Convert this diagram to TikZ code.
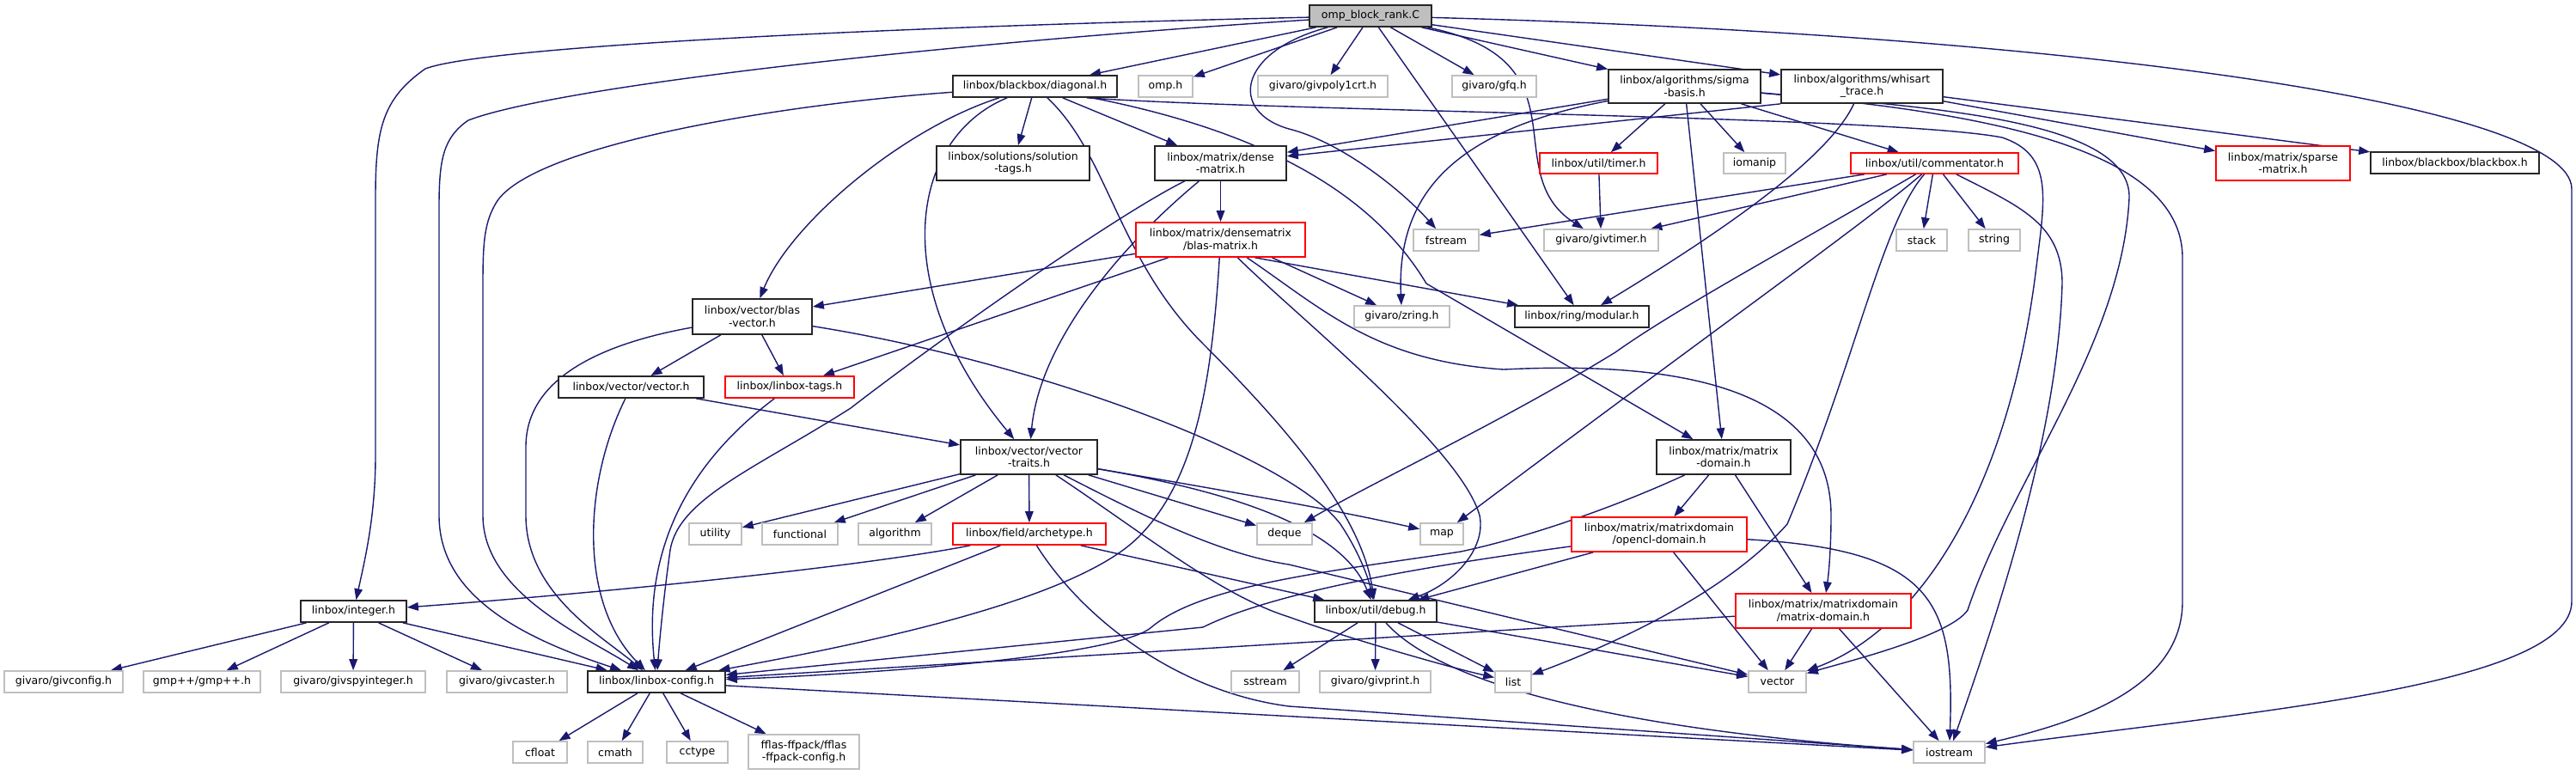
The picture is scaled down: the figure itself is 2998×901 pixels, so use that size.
\documentclass[tikz,border=0pt]{standalone}
\usepackage{fontspec}
\setmainfont{DejaVu Sans}
\usetikzlibrary{arrows.meta,calc,backgrounds}
\definecolor{edgec}{HTML}{191970}
\definecolor{gborder}{HTML}{BFBFBF}
\definecolor{gfillc}{HTML}{BFBFBF}
\definecolor{rborder}{HTML}{FF0000}
\newcommand{\bx}[7]{%
 \pgfmathsetmacro\cxx{(#3+#4)/2}\pgfmathsetmacro\cyy{(#5+#6)/2}%
 \pgfmathsetmacro\ww{(#4-#3)*0.5}\pgfmathsetmacro\hh{(#6-#5)*0.5}%
 \node[#2, minimum width=\ww pt, minimum height=\hh pt] (#1) at (\cxx,\cyy) {#7};}
\tikzset{
 nb/.style={draw, line width=0.85pt, inner sep=0pt, align=center, fill=white, text=black,
   font=\fontsize{6.25pt}{7.2pt}\selectfont},
 blk/.style={nb, draw=black!85},
 gn/.style={nb, draw=gborder},
 rn/.style={nb, draw=rborder},
 gfill/.style={nb, draw=black!85, fill=gfillc},
 e/.style={draw=edgec, line width=0.7pt, -{Triangle[length=6.5pt,width=4.8pt]}}
}
\begin{document}
\begin{tikzpicture}[x=0.5pt,y=-0.5pt]
\useasboundingbox (0,0) rectangle (2998,901);
\bx{omp}{gfill}{1524}{1666}{6}{31}{omp\_block\_rank.C}
\bx{diag}{blk}{1109}{1300}{88}{113}{linbox/blackbox/diagonal.h}
\bx{omph}{gn}{1325}{1388}{88}{113}{omp.h}
\bx{givpoly}{gn}{1464}{1615}{88}{113}{givaro/givpoly1crt.h}
\bx{gfq}{gn}{1690}{1788}{88}{113}{givaro/gfq.h}
\bx{sigma}{blk}{1872}{2049}{81}{120}{linbox/algorithms/sigma\\-basis.h}
\bx{whis}{blk}{2073}{2261}{81}{120}{linbox/algorithms/whisart\\\_trace.h}
\bx{soltags}{blk}{1090}{1268}{170}{210}{linbox/solutions/solution\\-tags.h}
\bx{dense}{blk}{1344}{1497}{170}{210}{linbox/matrix/dense\\-matrix.h}
\bx{timer}{rn}{1792}{1929}{178}{202}{linbox/util/timer.h}
\bx{iomanip}{gn}{2006}{2078}{178}{202}{iomanip}
\bx{comm}{rn}{2154}{2349}{178}{202}{linbox/util/commentator.h}
\bx{sparse}{rn}{2579}{2735}{170}{210}{linbox/matrix/sparse\\-matrix.h}
\bx{bbox}{blk}{2759}{2955}{177}{202}{linbox/blackbox/blackbox.h}
\bx{blasm}{rn}{1322}{1519}{259}{299}{linbox/matrix/densematrix\\/blas-matrix.h}
\bx{fstream}{gn}{1645}{1721}{267}{292}{fstream}
\bx{givtimer}{gn}{1797}{1930}{267}{292}{givaro/givtimer.h}
\bx{stack}{gn}{2207}{2266}{267}{292}{stack}
\bx{string}{gn}{2291}{2351}{267}{292}{string}
\bx{blasv}{blk}{806}{945}{348}{389}{linbox/vector/blas\\-vector.h}
\bx{zring}{gn}{1576}{1687}{356}{381}{givaro/zring.h}
\bx{modular}{blk}{1763}{1919}{356}{381}{linbox/ring/modular.h}
\bx{vec}{blk}{650}{819}{438}{463}{linbox/vector/vector.h}
\bx{tags}{rn}{844}{994}{438}{463}{linbox/linbox-tags.h}
\bx{vtraits}{blk}{1118}{1277}{512}{552}{linbox/vector/vector\\-traits.h}
\bx{mdom}{blk}{1928}{2084}{512}{552}{linbox/matrix/matrix\\-domain.h}
\bx{utility}{gn}{802}{863}{609}{634}{utility}
\bx{functional}{gn}{887}{975}{609}{634}{functional}
\bx{algorithm}{gn}{999}{1084}{609}{634}{algorithm}
\bx{arch}{rn}{1109}{1287}{609}{634}{linbox/field/archetype.h}
\bx{deque}{gn}{1463}{1527}{609}{634}{deque}
\bx{map}{gn}{1653}{1703}{609}{634}{map}
\bx{opencl}{rn}{1829}{2033}{602}{642}{linbox/matrix/matrixdomain\\/opencl-domain.h}
\bx{integer}{blk}{350}{473}{699}{724}{linbox/integer.h}
\bx{debug}{blk}{1530}{1672}{699}{724}{linbox/util/debug.h}
\bx{mdomb}{rn}{2020}{2224}{691}{731}{linbox/matrix/matrixdomain\\/matrix-domain.h}
\bx{givconfig}{gn}{5}{143}{781}{806}{givaro/givconfig.h}
\bx{gmp}{gn}{167}{303}{781}{806}{gmp++/gmp++.h}
\bx{givspy}{gn}{327}{495}{781}{806}{givaro/givspyinteger.h}
\bx{givcaster}{gn}{520}{660}{781}{806}{givaro/givcaster.h}
\bx{config}{blk}{684}{844}{781}{806}{linbox/linbox-config.h}
\bx{sstream}{gn}{1433}{1512}{781}{806}{sstream}
\bx{givprint}{gn}{1536}{1665}{781}{806}{givaro/givprint.h}
\bx{list}{gn}{1740}{1782}{781}{806}{list}
\bx{vector}{gn}{2035}{2102}{781}{806}{vector}
\bx{cfloat}{gn}{597}{660}{863}{888}{cfloat}
\bx{cmath}{gn}{684}{748}{863}{888}{cmath}
\bx{cctype}{gn}{776}{847}{863}{888}{cctype}
\bx{fflas}{gn}{871}{1000}{855}{895}{fflas-ffpack/fflas\\-ffpack-config.h}
\bx{iostream}{gn}{2227}{2310}{863}{888}{iostream}
\begin{pgfonlayer}{background}
% omp_block_rank.C
\draw[e] (omp) .. controls (1000,32) and (560,55) .. (495,80) .. controls (445,115) and (437,150) .. (437,230) -- (437,530) .. controls (437,600) and (425,650) .. (integer);
\draw[e] (omp) .. controls (1100,50) and (650,100) .. (545,140) .. controls (516,160) and (511,185) .. (511,240) -- (511,600) .. controls (511,690) and (600,740) .. (config);
\draw[e] (omp) -- (diag);
\draw[e] (omp) -- (omph);
\draw[e] (omp) -- (givpoly);
\draw[e] (omp) -- (gfq);
\draw[e] (omp) -- (sigma);
\draw[e] (omp) -- (whis);
\draw[e] (omp) .. controls (1440,60) and (1430,130) .. (1500,150) .. controls (1560,165) and (1630,220) .. (fstream);
\draw[e] (omp) -- (modular);
\draw[e] (omp) .. controls (1850,70) and (1740,200) .. (givtimer);
\draw[e] (omp) .. controls (2400,40) and (2993,120) .. (2993,220) -- (2993,700) .. controls (2993,800) and (2600,830) .. (iostream);
% diagonal.h
\draw[e] (diag) .. controls (900,122) and (620,170) .. (578,235) .. controls (564,258) and (562,280) .. (562,330) -- (562,600) .. controls (562,690) and (680,740) .. (config);
\draw[e] (diag) .. controls (1050,150) and (920,260) .. (blasv);
\draw[e] (diag) .. controls (1060,160) and (1030,330) .. (vtraits);
\draw[e] (diag) -- (soltags);
\draw[e] (diag) -- (dense);
\draw[e] (diag) .. controls (1290,180) and (1300,300) .. (1400,400) .. controls (1500,500) and (1585,600) .. (debug);
\draw[e] ($(diag.south east)+(-30,0)$) .. controls (1480,155) and (1600,230) .. (1660,330) -- (mdom);
\draw[e] ($(diag.south east)+(-36,0)$) .. controls (1500,130) and (2200,135) .. (2330,160) .. controls (2390,180) and (2380,230) .. (2370,310) .. controls (2340,560) and (2240,730) .. (vector);
% sigma-basis.h
\draw[e] (sigma) -- (dense);
\draw[e] (sigma) .. controls (1700,150) and (1625,220) .. (zring);
\draw[e] (sigma) -- (timer);
\draw[e] (sigma) -- (iomanip);
\draw[e] (sigma) -- (mdom);
\draw[e] (sigma) -- (comm);
\draw[e] (sigma) .. controls (2250,125) and (2480,140) .. (2478,230) .. controls (2470,400) and (2340,560) .. (2290,710) .. controls (2270,740) and (2150,770) .. (vector);
\draw[e] (sigma) .. controls (2300,130) and (2540,170) .. (2540,300) -- (2540,700) .. controls (2540,800) and (2420,840) .. (iostream);
% whisart_trace.h
\draw[e] (whis.south west) -- (dense);
\draw[e] (whis) -- (sparse);
\draw[e] (whis) -- (bbox);
\draw[e] (whis) .. controls (2130,180) and (2020,260) .. (modular);
% dense-matrix.h
\draw[e] (dense) -- (blasm);
\draw[e] (dense) .. controls (1300,250) and (1100,390) .. (990,475) .. controls (880,545) and (790,580) .. (780,640) .. controls (773,690) and (768,740) .. (config);
\draw[e] (dense) .. controls (1300,290) and (1210,400) .. (vtraits);
% blas-matrix.h
\draw[e] (blasm) -- (blasv);
\draw[e] (blasm) -- (tags);
\draw[e] (blasm) .. controls (1410,450) and (1390,560) .. (1325,625) .. controls (1250,700) and (1000,750) .. (config);
\draw[e] ($(blasm.south)+(20,0)$) .. controls (1500,360) and (1700,520) .. (1722,600) .. controls (1730,640) and (1690,680) .. (debug);
\draw[e] ($(blasm.south)+(60,0)$) -- (zring);
\draw[e] ($(blasm.south)+(40,0)$) -- (modular);
\draw[e] (blasm) .. controls (1540,360) and (1600,420) .. (1750,430) .. controls (1950,420) and (2131,450) .. (2131,600) .. controls (2131,640) and (2128,670) .. (mdomb);
% blas-vector.h
\draw[e] (blasv) -- (vec);
\draw[e] (blasv) -- (tags);
\draw[e] (blasv) .. controls (700,400) and (612,440) .. (612,520) -- (612,600) .. controls (612,690) and (700,740) .. (config);
\draw[e] (blasv) .. controls (1200,420) and (1500,530) .. (1560,610) .. controls (1580,640) and (1592,670) .. (debug);
% vector.h, linbox-tags.h
\draw[e] (vec) -- (vtraits);
\draw[e] (vec) .. controls (680,560) and (672,700) .. (config);
\draw[e] (tags) .. controls (800,540) and (748,640) .. (config);
% vector-traits.h
\draw[e] (vtraits) -- (utility);
\draw[e] (vtraits) -- (functional);
\draw[e] (vtraits) -- (algorithm);
\draw[e] (vtraits) -- (arch);
\draw[e] (vtraits) -- (deque);
\draw[e] (vtraits) .. controls (1450,575) and (1560,595) .. (map);
\draw[e] (vtraits) .. controls (1330,620) and (1420,693) .. (1500,718) .. controls (1560,740) and (1680,775) .. (list);
\draw[e] (vtraits) .. controls (1330,600) and (1420,645) .. (1500,657) -- (vector);
\draw[e] (vtraits) .. controls (1420,570) and (1560,610) .. (debug);
% archetype.h
\draw[e] (arch) .. controls (1000,660) and (700,690) .. (integer);
\draw[e] (arch) -- (config);
\draw[e] (arch) -- (debug);
\draw[e] (arch) .. controls (1260,720) and (1370,805) .. (1500,822) -- (iostream);
% matrix/matrix-domain.h
\draw[e] (mdom) -- (opencl);
\draw[e] (mdom) -- (mdomb);
\draw[e] (mdom) .. controls (1880,590) and (1780,625) .. (1700,642) .. controls (1550,665) and (1400,680) .. (1340,730) .. controls (1300,765) and (1000,785) .. (config);
% opencl-domain.h
\draw[e] (opencl) .. controls (1650,660) and (1480,690) .. (1400,730) -- (config);
\draw[e] (opencl) -- (debug);
\draw[e] (opencl) -- (vector);
\draw[e] (opencl) .. controls (2250,640) and (2275,700) .. (iostream);
% matrixdomain/matrix-domain.h
\draw[e] (mdomb) -- (config);
\draw[e] (mdomb) -- (vector);
\draw[e] (mdomb) -- (iostream);
% debug.h
\draw[e] (debug) -- (sstream);
\draw[e] (debug) -- (givprint);
\draw[e] (debug) -- (list);
\draw[e] (debug) -- (vector);
\draw[e] (debug) .. controls (1680,800) and (1900,850) .. (iostream);
% integer.h
\draw[e] (integer) -- (givconfig);
\draw[e] (integer) -- (gmp);
\draw[e] (integer) -- (givspy);
\draw[e] (integer) -- (givcaster);
\draw[e] (integer) -- (config);
% linbox-config.h
\draw[e] (config) -- (cfloat);
\draw[e] (config) -- (cmath);
\draw[e] (config) -- (cctype);
\draw[e] (config) -- (fflas);
\draw[e] (config) -- (iostream);
% timer.h, commentator.h
\draw[e] (timer) -- (givtimer);
\draw[e] (comm) -- (fstream);
\draw[e] (comm) -- (givtimer);
\draw[e] (comm) -- (stack);
\draw[e] (comm) -- (string);
\draw[e] (comm) .. controls (2080,290) and (1950,360) .. (1880,410) .. controls (1750,490) and (1600,560) .. (deque);
\draw[e] (comm) .. controls (2170,260) and (2000,380) .. (map);
\draw[e] ($(comm.south)+(-12,0)$) .. controls (2190,260) and (2160,420) .. (2080,610) .. controls (2000,700) and (1850,760) .. (list);
\draw[e] (comm) .. controls (2350,240) and (2400,260) .. (2400,330) .. controls (2395,500) and (2330,700) .. (iostream);
\end{pgfonlayer}
\end{tikzpicture}
\end{document}
